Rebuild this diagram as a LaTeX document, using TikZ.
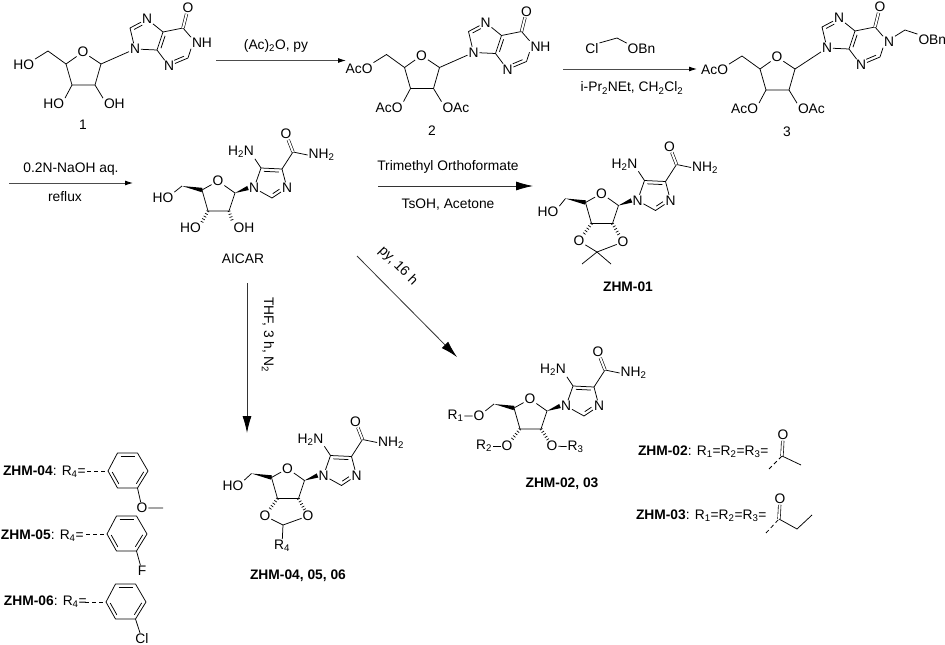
\documentclass[tikz,border=0pt]{standalone}
\usepackage{fontspec}
\setmainfont{Liberation Sans}
\usetikzlibrary{calc,arrows.meta}

\newcommand{\inbond}[5]{\draw [shorten <=#4, shorten >=#5] ($(#1)!3.2pt!#3:(#2)$) -- ($(#2)!3.2pt!-#3:(#1)$);}
\newcommand{\wbond}[2]{\fill (#1) -- ($(#2)!2.2pt!90:(#1)$) -- ($(#2)!2.2pt!-90:(#1)$) -- cycle;}

\begin{document}
\begin{tikzpicture}[x = 1pt, y = -1pt, line width = .75pt, line join = round, font = \fontsize{13.8}{16}\selectfont,
    t/.style = {inner sep = 1pt, outer sep = 0pt},
    dbl/.style = {double, double distance = 2pt, line width = .6pt},
    hash/.style = {line width = 3pt, dash pattern = on .7pt off 2.3pt},
    dsh/.style = {dash pattern = on 4pt off 3pt},
    a/.style = {draw = black!70, line width = .9pt, -{Latex[color = black, length = 8pt, width = 5pt]}},
    al/.style = {draw = black!80, line width = .8pt, -{Latex[color = black, length = 17pt, width = 9pt]}}]
      \useasboundingbox (0, 0) rectangle (945, 645);

      % ribose rings of 1, 2, 3
      \foreach \m/\x/\y/\ra/\rb/\rc in {s1/0/0/HO/HO/OH, s2/338.5/3.5/AcO/AcO/OAc, s3/694/5/AcO/AcO/OAc} {
        \begin{scope}[shift = {(\x, \y)}]
          \node [t] (\m-o) at (83, 52) {O};
          \coordinate (\m-c1) at (101, 64);
          \coordinate (\m-c2) at (95, 85);
          \coordinate (\m-c3) at (72, 85);
          \coordinate (\m-c4) at (66, 64);
          \coordinate (\m-ch) at (48, 51);
          \node [t, anchor = east] (\m-r5) at (35, 65) {\ra};
          \node [t, anchor = east] (\m-r3) at (65, 104) {\rb};
          \node [t, anchor = west] (\m-r2) at (103, 104) {\rc};
          \draw (\m-o) -- (\m-c1) -- (\m-c2) -- (\m-c3) -- (\m-c4) -- (\m-o);
          \draw (\m-r5.north east) -- (\m-ch) -- (\m-c4);
          \draw (\m-c3) -- (\m-r3.north east);
          \draw (\m-c2) -- (\m-r2.north west);
        \end{scope}
      }

      % purines of 1, 2, 3
      \foreach \m/\x/\y/\nh in {p1/0/0/NH, p2/338.5/3.5/NH, p3/692/-1/N} {
        \begin{scope}[shift = {(\x, \y)}]
          \node [t] (\m-n9) at (135, 49) {N};
          \coordinate (\m-c8) at (130, 28);
          \node [t] (\m-n7) at (147, 19) {N};
          \coordinate (\m-c5) at (163, 32);
          \coordinate (\m-c4) at (157, 50);
          \node [t] (\m-n3) at (169, 66) {N};
          \coordinate (\m-c2) at (188, 58);
          \node [t, anchor = west] (\m-n1) at (191, 43) {\nh};
          \coordinate (\m-c6) at (183, 28);
          \node [t] (\m-o6) at (188, 8) {O};
          \draw (\m-n9) -- (\m-c8) -- (\m-n7) -- (\m-c5) -- (\m-c4) -- (\m-n9);
          \draw (\m-c4) -- (\m-n3) -- (\m-c2) -- (\m-n1.south west);
          \draw (\m-n1.north west) -- (\m-c6) -- (\m-c5);
          \draw [dbl] (\m-c6) -- (\m-o6);
          \inbond{\m-c8}{\m-n7}{-90}{3pt}{7pt}
          \inbond{\m-c5}{\m-c4}{90}{3pt}{3pt}
          \inbond{\m-n3}{\m-c2}{90}{7pt}{3pt}
        \end{scope}
      }
      \foreach \n in {1, 2, 3} {
        \draw (s\n-c1) -- (p\n-n9);
      }

      \node [coordinate] (x3) at (905, 30) {};
      \node [t, anchor = west] (obn3) at (917.5, 40) {OBn};
      \draw (p3-n1.north east) -- (x3) -- (obn3.north west);

      \node (lab1) at (83, 125) {1};
      \node (lab2) at (432, 131) {2};
      \node (lab3) at (787, 132) {3};

      % AICAR core, repeated for the products
      \foreach \m/\x/\y in {k/0/0, z1/383.5/12.5, z2/312/218, z4/69.5/287.5} {
        \begin{scope}[shift = {(\x, \y)}]
          \node [t] (\m-o) at (218, 181) {O};
          \coordinate (\m-c1) at (235, 193);
          \coordinate (\m-c2) at (229, 211);
          \coordinate (\m-c3) at (208, 211);
          \coordinate (\m-c4) at (202, 190);
          \coordinate (\m-ch) at (182, 186);
          \node [t] (\m-n1) at (254, 188) {N};
          \coordinate (\m-c5) at (261, 168);
          \coordinate (\m-c6) at (282, 169);
          \node [t] (\m-n3) at (287, 188) {N};
          \coordinate (\m-c7) at (272, 198);
          \node [t] (\m-nh) at (241, 152) {H\textsubscript{2}N};
          \coordinate (\m-cc) at (293, 152);
          \node [t] (\m-oc) at (286, 134) {O};
          \node [t] (\m-am) at (321.5, 155) {NH\textsubscript{2}};
          \draw (\m-o) -- (\m-c1) -- (\m-c2) -- (\m-c3) -- (\m-c4) -- (\m-o);
          \wbond{\m-ch}{\m-c4}
          \wbond{\m-c1}{\m-n1.west}
          \draw (\m-n1) -- (\m-c5) -- (\m-c6) -- (\m-n3) -- (\m-c7) -- (\m-n1);
          \draw (\m-c5) -- (\m-nh.south east);
          \draw (\m-c6) -- (\m-cc) -- (\m-am.west);
          \draw [dbl] (\m-cc) -- (\m-oc);
          \inbond{\m-c5}{\m-c6}{-90}{3pt}{3pt}
          \inbond{\m-c7}{\m-n3}{90}{3pt}{7pt}
        \end{scope}
      }

      % AICAR
      \node [t] (k-ho5) at (163, 198) {HO};
      \node [t] (k-ho3) at (190.5, 228) {HO};
      \node [t] (k-oh2) at (244, 228) {OH};
      \draw (k-ch) -- (k-ho5.north east);
      \draw [hash] (k-c3) -- (k-ho3.north east);
      \draw [hash] (k-c2) -- (k-oh2.north west);
      \node (labk) at (243, 259) {AICAR};

      % ZHM-01
      \node [t] (z1-ho5) at (548, 212) {HO};
      \node [t] (z1-o3) at (579, 241) {O};
      \node [t] (z1-o2) at (623, 242) {O};
      \coordinate (z1-cm) at (597, 252);
      \coordinate (z1-m1) at (582, 264);
      \coordinate (z1-m2) at (611, 264);
      \draw (z1-ch) -- (z1-ho5.north east);
      \draw [hash] (z1-c3) -- (z1-o3);
      \draw [hash] (z1-c2) -- (z1-o2);
      \draw (z1-o3) -- (z1-cm) -- (z1-o2);
      \draw (z1-m1) -- (z1-cm) -- (z1-m2);
      \node (lab01) at (628, 287) {\textbf{ZHM-01}};

      % ZHM-02, 03
      \node [t] (z2-o5) at (479, 416) {O};
      \node [t] (z2-r1) at (455.5, 416) {R\textsubscript{1}};
      \node [t] (z2-o3) at (507, 446) {O};
      \node [t] (z2-r2) at (484, 446) {R\textsubscript{2}};
      \node [t] (z2-o2) at (552, 446) {O};
      \node [t] (z2-r3) at (575.5, 447) {R\textsubscript{3}};
      \draw (z2-ch) -- (z2-o5) -- (z2-r1);
      \draw [hash] (z2-c3) -- (z2-o3);
      \draw [hash] (z2-c2) -- (z2-o2);
      \draw (z2-o3) -- (z2-r2);
      \draw (z2-o2) -- (z2-r3);
      \node (lab02) at (562, 484) {\textbf{ZHM-02, 03}};

      % ZHM-04, 05, 06
      \node [t] (z4-ho5) at (233, 486) {HO};
      \node [t] (z4-o3) at (265, 516) {O};
      \node [t] (z4-o2) at (308, 516) {O};
      \coordinate (z4-cr) at (283, 525);
      \node [t] (z4-r4) at (282, 546) {R\textsubscript{4}};
      \draw (z4-ch) -- (z4-ho5.north east);
      \draw [hash] (z4-c3) -- (z4-o3);
      \draw [hash] (z4-c2) -- (z4-o2);
      \draw (z4-o3) -- (z4-cr) -- (z4-o2);
      \draw (z4-cr) -- (z4-r4);
      \node (lab04) at (298, 576) {\textbf{ZHM-04, 05, 06}};

      % R4 phenyl rings
      \foreach \m/\x/\y in {b4/0/0, b5/-1/63, b6/-2/131} {
        \begin{scope}[shift = {(\x, \y)}]
          \coordinate (\m-r1) at (108, 471);
          \coordinate (\m-r2) at (117.5, 453);
          \coordinate (\m-r3) at (137.5, 453);
          \coordinate (\m-r4) at (148, 471);
          \coordinate (\m-r5) at (137.5, 488);
          \coordinate (\m-r6) at (117.5, 488);
          \coordinate (\m-d) at (87, 471);
          \draw (\m-r1) -- (\m-r2) -- (\m-r3) -- (\m-r4) -- (\m-r5) -- (\m-r6) -- cycle;
          \draw [dsh] (\m-d) -- (\m-r1);
          \inbond{\m-r2}{\m-r3}{-90}{3pt}{3pt}
          \inbond{\m-r4}{\m-r5}{-90}{3pt}{3pt}
          \inbond{\m-r6}{\m-r1}{-90}{3pt}{3pt}
        \end{scope}
      }
      \node [t, anchor = west] (txt4) at (2, 472) {\textbf{ZHM-04}: R\textsubscript{4}=};
      \node [t, anchor = west] (txt5) at (0, 536) {\textbf{ZHM-05}: R\textsubscript{4}=};
      \node [t, anchor = west] (txt6) at (3, 602) {\textbf{ZHM-06}: R\textsubscript{4}=};
      \node [t] (b4-o) at (142, 508) {O};
      \coordinate (b4-me) at (163, 508);
      \node [t] (b5-f) at (142, 571) {F};
      \node [t] (b6-cl) at (142, 639) {Cl};
      \draw (b4-r5) -- (b4-o) -- (b4-me);
      \draw (b5-r5) -- (b5-f);
      \draw (b6-r5) -- (b6-cl);

      % R1, R2, R3 acyl groups
      \node [t, anchor = west] (txt2) at (637, 452) {\textbf{ZHM-02}: R\textsubscript{1}=R\textsubscript{2}=R\textsubscript{3}=};
      \node [t, anchor = west] (txt3) at (635, 516) {\textbf{ZHM-03}: R\textsubscript{1}=R\textsubscript{2}=R\textsubscript{3}=};
      \node [t] (ac-o) at (783, 435) {O};
      \coordinate (ac-c) at (782, 456);
      \coordinate (ac-m) at (801, 465);
      \coordinate (ac-d) at (769, 469);
      \draw [dbl] (ac-c) -- (ac-o);
      \draw (ac-c) -- (ac-m);
      \draw [dsh] (ac-d) -- (ac-c);
      \node [t] (pr-o) at (780, 499) {O};
      \coordinate (pr-c) at (779, 519);
      \coordinate (pr-a) at (797, 529);
      \coordinate (pr-m) at (812, 515);
      \coordinate (pr-d) at (766, 533);
      \draw [dbl] (pr-c) -- (pr-o);
      \draw (pr-c) -- (pr-a) -- (pr-m);
      \draw [dsh] (pr-d) -- (pr-c);

      % reaction arrows
      \coordinate (r1a) at (216, 60.5);
      \coordinate (r1b) at (346, 60.5);
      \draw [a] (r1a) -- (r1b);
      \node (r1t) at (276, 46) {(Ac)\textsubscript{2}O, py};

      \coordinate (r2a) at (563, 69);
      \coordinate (r2b) at (697, 69);
      \draw [a] (r2a) -- (r2b);
      \node [t] (r2cl) at (592, 49) {Cl};
      \coordinate (r2c) at (617, 38);
      \node [t] (r2o) at (641.5, 49) {OBn};
      \draw (r2cl.north east) -- (r2c) -- (r2o.north west);
      \node (r2t) at (632, 88) {i-Pr\textsubscript{2}NEt, CH\textsubscript{2}Cl\textsubscript{2}};

      \coordinate (r3a) at (9, 183);
      \coordinate (r3b) at (133, 183);
      \draw [a] (r3a) -- (r3b);
      \node (r3t) at (71, 169) {0.2N-NaOH aq.};
      \node (r3u) at (65, 197) {reflux};

      \coordinate (r4a) at (378, 186);
      \coordinate (r4b) at (533, 186);
      \draw [al] (r4a) -- (r4b);
      \node (r4t) at (448, 167) {Trimethyl Orthoformate};
      \node (r4u) at (448, 205) {TsOH, Acetone};

      \coordinate (r5a) at (247, 283);
      \coordinate (r5b) at (247, 433);
      \draw [al] (r5a) -- (r5b);
      \node [rotate = -90] (r5t) at (268, 335) {THF, 3 h, N\textsubscript{2}};

      \coordinate (r6a) at (357, 256);
      \coordinate (r6b) at (457, 357);
      \draw [al] (r6a) -- (r6b);
      \node [rotate = -45] (r6t) at (398, 266) {py, 16 h};
    \end{tikzpicture}
\end{document}
